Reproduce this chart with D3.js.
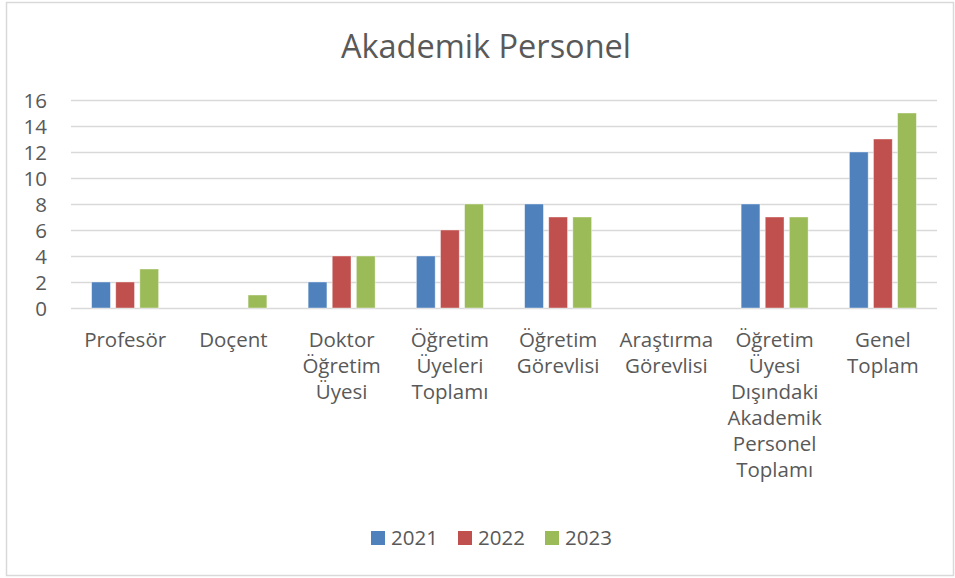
<!DOCTYPE html>
<html><head><meta charset="utf-8">
<script src="https://cdn.jsdelivr.net/npm/d3@7"></script>
<style>body{margin:0;background:#fff}svg{display:block}text{font-family:"Open Sans",sans-serif;fill:#595959}</style>
</head><body><svg id="c" width="955" height="578"></svg>
<script>
const categories = ["Profesör","Doçent","Doktor Öğretim Üyesi","Öğretim Üyeleri Toplamı","Öğretim Görevlisi","Araştırma Görevlisi","Öğretim Üyesi Dışındaki Akademik Personel Toplamı","Genel Toplam"];
const categoryLines = [["Profesör"],["Doçent"],["Doktor","Öğretim","Üyesi"],["Öğretim","Üyeleri","Toplamı"],["Öğretim","Görevlisi"],["Araştırma","Görevlisi"],["Öğretim","Üyesi","Dışındaki","Akademik","Personel","Toplamı"],["Genel","Toplam"]];
const seriesNames = ["2021","2022","2023"];
const values2021 = [2,0,2,4,8,0,8,12];
const values2022 = [2,0,4,6,7,0,7,13];
const values2023 = [3,1,4,8,7,0,7,15];
const yTicks = [0,2,4,6,8,10,12,14,16];
const colors = ["#4F81BD","#C0504D","#9BBB59"];
const seriesValues = [values2021, values2022, values2023];

const svg = d3.select("#c");
svg.append("rect").attr("x",6.5).attr("y",2.5).attr("width",947).attr("height",573).attr("fill","#fff").attr("stroke","#d9d9d9").attr("stroke-width",1.5);

const x0 = d3.scaleBand().domain(categories).range([71,937]).paddingInner(0).paddingOuter(0);
const y = d3.scaleLinear().domain([0,16]).range([308,100]);
const groupW = 67;
const x1 = d3.scaleBand().domain(seriesNames).range([0,groupW]).paddingInner(0.22).paddingOuter(0);

svg.append("text").attr("x",486).attr("y",58).attr("text-anchor","middle").style("font-size","32.5px").text("Akademik Personel");

const g = svg.append("g");
g.selectAll("line.grid").data(yTicks).enter().append("line")
  .attr("x1",71).attr("x2",937).attr("y1",d=>Math.round(y(d))+0.5).attr("y2",d=>Math.round(y(d))+0.5)
  .attr("stroke","#d9d9d9").attr("stroke-width",1.3);

const yAxis = d3.axisLeft(y).tickValues(yTicks).tickSize(0).tickPadding(0);
const ya = svg.append("g").attr("transform","translate(47,0)").call(yAxis);
ya.select(".domain").remove();
ya.selectAll("text").style("font-size","20.5px").style("font-family","'Open Sans',sans-serif").attr("fill","#595959").attr("dy","0.35em");

seriesNames.forEach((s,si)=>{
  g.selectAll("rect.s"+si).data(categories).enter().append("rect")
    .attr("x",(c)=>x0(c)+(x0.bandwidth()-groupW)/2+x1(s))
    .attr("width",x1.bandwidth())
    .attr("y",(c,i)=>y(seriesValues[si][i]))
    .attr("height",(c,i)=>y(0)-y(seriesValues[si][i]))
    .attr("fill",colors[si]).attr("stroke","#fff").attr("stroke-opacity",0.5).attr("stroke-width",0.8);
});

categories.forEach((c,i)=>{
  const t = svg.append("text").attr("text-anchor","middle").attr("x",x0(c)+x0.bandwidth()/2).attr("y",347).style("font-size","20.5px");
  categoryLines[i].forEach((l,j)=>t.append("tspan").attr("x",x0(c)+x0.bandwidth()/2).attr("dy",j?26:0).text(l));
});

const lg = svg.append("g");
seriesNames.forEach((s,i)=>{
  const lx = 371 + i*87;
  lg.append("rect").attr("x",lx).attr("y",531).attr("width",14).attr("height",14).attr("fill",colors[i]);
  lg.append("text").attr("x",lx+20).attr("y",545).style("font-size","20.5px").text(s);
});
</script></body></html>
